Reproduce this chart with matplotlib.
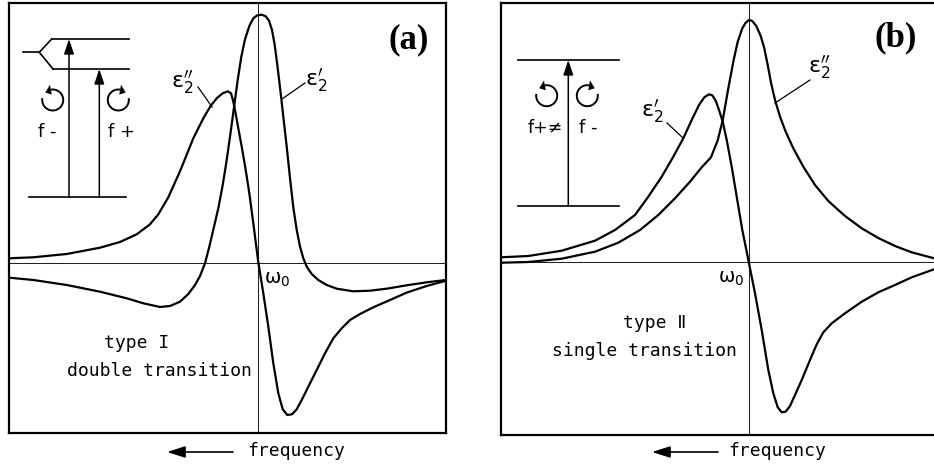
import numpy as np
import matplotlib
matplotlib.use("Agg")
import matplotlib.pyplot as plt
from matplotlib.patches import Arc, Polygon

plt.rcParams['mathtext.fontset'] = 'dejavusans'
LETTER = ['DejaVu Sans Mono', 'DejaVu Sans']

# frequency offset from w0 (x) and response (y)
# panel (a): type I, double transition
a_re_x = [-2.490, -2.250, -1.916, -1.583, -1.316, -1.150, -0.983, -0.883, -0.783, -0.700,
          -0.633, -0.583, -0.533, -0.490, -0.443, -0.400, -0.356, -0.316, -0.276, -0.240,
          -0.206, -0.170, -0.133, -0.090, -0.050, -0.010, 0.034, 0.074, 0.107, 0.137,
          0.164, 0.190, 0.220, 0.250, 0.284, 0.317, 0.350, 0.384, 0.417, 0.450,
          0.484, 0.534, 0.600, 0.684, 0.784, 0.950, 1.117, 1.284, 1.484, 1.684, 1.877]
a_re_y = [-0.144, -0.167, -0.217, -0.284, -0.350, -0.400, -0.437, -0.427, -0.384, -0.307,
          -0.217, -0.127, 0.000, 0.166, 0.366, 0.550, 0.783, 1.033, 1.316, 1.583,
          1.833, 2.066, 2.240, 2.373, 2.450, 2.480, 2.486, 2.470, 2.426, 2.333,
          2.183, 1.983, 1.733, 1.466, 1.166, 0.850, 0.560, 0.333, 0.166, 0.050,
          -0.034, -0.107, -0.167, -0.217, -0.254, -0.280, -0.274, -0.254, -0.220, -0.190, -0.167]
a_im_x = [-2.490, -2.250, -1.916, -1.583, -1.383, -1.216, -1.083, -1.000, -0.900, -0.783,
          -0.650, -0.550, -0.476, -0.410, -0.356, -0.306, -0.273, -0.250, -0.230, -0.200,
          -0.166, -0.126, -0.090, -0.050, 0.000, 0.050, 0.100, 0.150, 0.200, 0.244,
          0.290, 0.337, 0.384, 0.434, 0.500, 0.584, 0.667, 0.750, 0.834, 0.917,
          1.017, 1.150, 1.317, 1.484, 1.684, 1.877]
a_im_y = [0.050, 0.060, 0.093, 0.156, 0.213, 0.290, 0.390, 0.490, 0.660, 0.920,
          1.250, 1.450, 1.575, 1.656, 1.700, 1.720, 1.700, 1.616, 1.516, 1.350,
          1.166, 0.933, 0.700, 0.400, 0.010, -0.300, -0.634, -1.000, -1.300, -1.460,
          -1.517, -1.510, -1.460, -1.367, -1.234, -1.067, -0.900, -0.750, -0.650, -0.567,
          -0.507, -0.440, -0.367, -0.293, -0.227, -0.174]

# panel (b): type II, single transition
b_im_x = [-2.480, -2.207, -1.873, -1.540, -1.307, -1.090, -0.907, -0.740, -0.590, -0.473,
          -0.380, -0.313, -0.263, -0.207, -0.157, -0.113, -0.067, -0.033, 0.000, 0.033,
          0.073, 0.117, 0.153, 0.187, 0.220, 0.260, 0.310, 0.367, 0.443, 0.543,
          0.660, 0.793, 0.960, 1.127, 1.293, 1.460, 1.627, 1.850, 1.890]
b_im_y = [-0.004, 0.003, 0.036, 0.106, 0.196, 0.323, 0.473, 0.640, 0.806, 0.950,
          1.050, 1.220, 1.420, 1.740, 2.006, 2.206, 2.340, 2.396, 2.423, 2.413,
          2.363, 2.263, 2.140, 1.973, 1.796, 1.623, 1.456, 1.306, 1.140, 0.956,
          0.773, 0.613, 0.463, 0.340, 0.243, 0.163, 0.100, 0.040, 0.036]
b_re_x = [-2.480, -2.207, -1.873, -1.540, -1.340, -1.140, -1.007, -0.873, -0.757, -0.657,
          -0.573, -0.500, -0.447, -0.400, -0.367, -0.333, -0.300, -0.263, -0.223, -0.173,
          -0.123, -0.067, 0.000, 0.060, 0.127, 0.193, 0.243, 0.287, 0.327, 0.367,
          0.410, 0.460, 0.527, 0.610, 0.677, 0.743, 0.827, 0.960, 1.127, 1.293,
          1.460, 1.627, 1.850, 1.890]
b_re_y = [0.050, 0.063, 0.116, 0.216, 0.323, 0.473, 0.656, 0.856, 1.056, 1.240,
          1.423, 1.573, 1.650, 1.680, 1.670, 1.616, 1.523, 1.406, 1.223, 0.956,
          0.656, 0.323, -0.010, -0.310, -0.677, -1.077, -1.310, -1.450, -1.500, -1.493,
          -1.437, -1.327, -1.177, -0.977, -0.820, -0.700, -0.610, -0.510, -0.394, -0.300,
          -0.227, -0.150, -0.070, -0.058]

EPS1 = r'$\mathrm{\varepsilon}_2^{\prime}$'
EPS2 = r'$\mathrm{\varepsilon}_2^{\prime\prime}$'
OMEGA0 = r'$\mathrm{\omega}_0$'


def setup(ax, xlim, ylim):
    ax.set_xlim(*xlim)
    ax.set_ylim(*ylim)
    ax.set_xticks([])
    ax.set_yticks([])
    for sp in ax.spines.values():
        sp.set_linewidth(1.6)
    ax.axhline(0, color='#222222', lw=0.75, zorder=1)
    ax.axvline(0, color='#222222', lw=0.75, zorder=1)


def circ_arrow(ax, cx, cy, ccw=True, r=0.105):
    if ccw:
        ax.add_patch(Arc((cx, cy), 2 * r, 2 * r, theta1=170, theta2=100, lw=1.4, color='k'))
        tip, base = np.radians(135), np.radians(100)
    else:
        ax.add_patch(Arc((cx, cy), 2 * r, 2 * r, theta1=80, theta2=10, lw=1.4, color='k'))
        tip, base = np.radians(45), np.radians(80)
    t = (cx + r * np.cos(tip), cy + r * np.sin(tip))
    b1 = (cx + (r + 0.05) * np.cos(base), cy + (r + 0.05) * np.sin(base))
    b2 = (cx + (r - 0.05) * np.cos(base), cy + (r - 0.05) * np.sin(base))
    ax.add_patch(Polygon([t, b1, b2], closed=True, color='k', lw=0))


def up_arrow(ax, x, y0, y1):
    ax.annotate('', xy=(x, y1), xytext=(x, y0),
                arrowprops=dict(arrowstyle='-|>,head_length=0.9,head_width=0.3',
                                mutation_scale=10, lw=1.1, color='k',
                                shrinkA=0, shrinkB=0))


def freq_arrow(ax, x0, x1, y, xt):
    ax.annotate('', xy=(x1, y), xytext=(x0, y), annotation_clip=False,
                arrowprops=dict(arrowstyle='-|>,head_length=1.1,head_width=0.35',
                                mutation_scale=10, lw=1.2, color='k',
                                shrinkA=0, shrinkB=0))
    ax.text(xt, y + 0.01, 'frequency', family=LETTER, fontsize=13,
            ha='left', va='center', clip_on=False)


fig = plt.figure(figsize=(9.34, 4.68), dpi=100)
ax_a = fig.add_axes([0.00964, 0.0748, 0.4679, 0.9188])
ax_b = fig.add_axes([0.5364, 0.0705, 0.4679, 0.9231])

curve = dict(color='k', lw=1.6, solid_joinstyle='round', solid_capstyle='round', zorder=3)
lev = dict(color='k', lw=1.2)

# ---------------- panel (a)
setup(ax_a, (-2.493, 1.877), (-1.697, 2.603))
ax_a.plot(a_re_x, a_re_y, **curve)
ax_a.plot(a_im_x, a_im_y, **curve)

ax_a.text(0.577, 1.833, EPS1, fontsize=16, ha='center', va='center')
ax_a.plot([0.467, 0.237], [1.803, 1.643], color='k', lw=0.9)
ax_a.text(-0.763, 1.813, EPS2, fontsize=16, ha='center', va='center')
ax_a.plot([-0.603, -0.463], [1.763, 1.563], color='k', lw=0.9)
ax_a.text(0.192, -0.162, OMEGA0, fontsize=14, ha='center', va='center')

ax_a.text(-1.213, -0.802, 'type I', family=LETTER, fontsize=13, ha='center', va='center')
ax_a.text(-0.988, -1.082, 'double transition', family=LETTER, fontsize=13,
          ha='center', va='center')
ax_a.text(1.50, 2.233, '(a)', family='Liberation Serif', weight='bold', fontsize=25,
          ha='center', va='center')

# level scheme, split upper level
ax_a.plot([-2.066, -1.293], [2.243, 2.243], **lev)
ax_a.plot([-2.053, -1.293], [1.943, 1.943], **lev)
ax_a.plot([-2.356, -2.19], [2.11, 2.11], **lev)
ax_a.plot([-2.19, -2.066], [2.11, 2.243], **lev)
ax_a.plot([-2.19, -2.053], [2.11, 1.943], **lev)
ax_a.plot([-2.293, -1.323], [0.66, 0.66], **lev)
up_arrow(ax_a, -1.893, 0.66, 2.243)
up_arrow(ax_a, -1.59, 0.66, 1.943)
circ_arrow(ax_a, -2.056, 1.633, ccw=True)
circ_arrow(ax_a, -1.40, 1.633, ccw=False)
ax_a.text(-2.113, 1.313, 'f -', family='DejaVu Sans', fontsize=13, ha='center', va='center')
ax_a.text(-1.373, 1.313, 'f +', family='DejaVu Sans', fontsize=13, ha='center', va='center')

freq_arrow(ax_a, -0.253, -0.913, -1.887, -0.113)

# ---------------- panel (b)
setup(ax_b, (-2.48, 1.89), (-1.727, 2.593))
ax_b.plot(b_re_x, b_re_y, **curve)
ax_b.plot(b_im_x, b_im_y, **curve)

ax_b.text(0.70, 1.953, EPS2, fontsize=16, ha='center', va='center')
ax_b.plot([0.61, 0.26], [1.823, 1.593], color='k', lw=0.9)
ax_b.text(-0.97, 1.513, EPS1, fontsize=16, ha='center', va='center')
ax_b.plot([-0.82, -0.66], [1.393, 1.243], color='k', lw=0.9)
ax_b.text(-0.18, -0.157, OMEGA0, fontsize=14, ha='center', va='center')

ax_b.text(-0.945, -0.602, 'type \u2161', family=LETTER, fontsize=13, ha='center', va='center')
ax_b.text(-1.05, -0.882, 'single transition', family=LETTER, fontsize=13,
          ha='center', va='center')
ax_b.text(1.47, 2.243, '(b)', family='Liberation Serif', weight='bold', fontsize=25,
          ha='center', va='center')

ax_b.plot([-2.31, -1.30], [2.023, 2.023], **lev)
ax_b.plot([-2.31, -1.30], [0.566, 0.566], **lev)
up_arrow(ax_b, -1.807, 0.566, 2.023)
circ_arrow(ax_b, -2.023, 1.666, ccw=True)
circ_arrow(ax_b, -1.617, 1.666, ccw=False)
ax_b.text(-2.04, 1.343, 'f+\u2260', family='DejaVu Sans', fontsize=12.5, ha='center', va='center')
ax_b.text(-1.605, 1.343, 'f -', family='DejaVu Sans', fontsize=13, ha='center', va='center')

freq_arrow(ax_b, -0.31, -0.97, -1.897, -0.21)

fig.savefig('out.png', dpi=100)
